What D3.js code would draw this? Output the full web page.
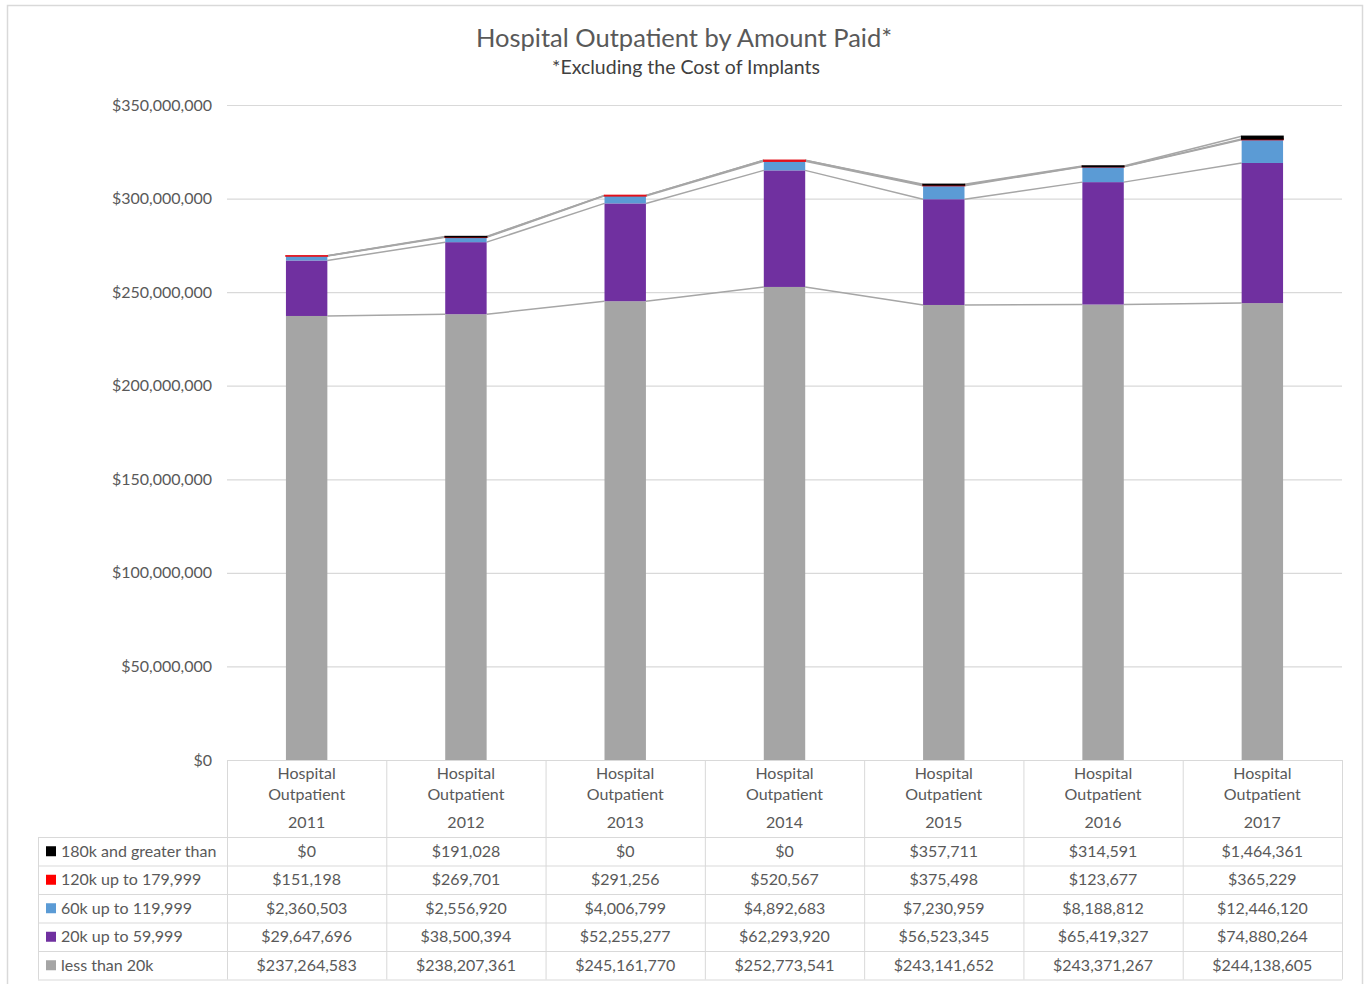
<!DOCTYPE html>
<html><head><meta charset="utf-8">
<script src="https://cdn.jsdelivr.net/npm/d3@7"></script>
<style>
body{margin:0;background:#fff;}
svg{display:block;font-family:Lato,"Open Sans",sans-serif;}
</style></head>
<body><svg id="c" width="1369" height="984"></svg>
<script>
const years = ["2011","2012","2013","2014","2015","2016","2017"];
const seriesNames = ["less than 20k","20k up to 59,999","60k up to 119,999","120k up to 179,999","180k and greater than"];
const lessThan20k = [237264583,238207361,245161770,252773541,243141652,243371267,244138605];
const from20kTo59999 = [29647696,38500394,52255277,62293920,56523345,65419327,74880264];
const from60kTo119999 = [2360503,2556920,4006799,4892683,7230959,8188812,12446120];
const from120kTo179999 = [151198,269701,291256,520567,375498,123677,365229];
const over180k = [0,191028,0,0,357711,314591,1464361];
const yTicks = [0,50000000,100000000,150000000,200000000,250000000,300000000,350000000];
const colors = ["#a5a5a5","#7030a0","#5b9bd5","#e3101a","#000000"];
const keyColors = ["#a5a5a5","#7030a0","#5b9bd5","#ff0000","#000000"];
const seriesValues = [lessThan20k, from20kTo59999, from60kTo119999, from120kTo179999, over180k];

const svg = d3.select("#c");
const plotL = 227, plotR = 1342, plotT = 105, plotB = 760;
const tblL = 38;

svg.append("rect").attr("x",7.5).attr("y",5.5).attr("width",1355).attr("height",990)
  .attr("fill","#fff").attr("stroke","#d9d9d9").attr("stroke-width",1.5);

svg.append("text").attr("x",684).attr("y",47).attr("text-anchor","middle")
  .attr("font-size",25.5).attr("fill","#595959").text("Hospital Outpatient by Amount Paid*");
svg.append("text").attr("x",686).attr("y",74).attr("text-anchor","middle")
  .attr("font-size",19.5).attr("fill","#404040").text("*Excluding the Cost of Implants");

const x = d3.scaleBand().domain(years).range([plotL, plotR]).paddingInner(0).paddingOuter(0);
const y = d3.scaleLinear().domain([0,350000000]).range([plotB, plotT]);
const barW = x.bandwidth()*0.26;

svg.append("g").selectAll("line").data(yTicks.slice(1)).join("line")
  .attr("x1",plotL).attr("x2",plotR).attr("y1",d=>y(d)+0.5).attr("y2",d=>y(d)+0.5)
  .attr("stroke","#d9d9d9").attr("stroke-width",1.2);

const fmt = d3.format("$,.0f");
const yAxis = d3.axisLeft(y).tickValues(yTicks).tickFormat(fmt).tickSize(0).tickPadding(15);
const ga = svg.append("g").attr("transform",`translate(${plotL},0)`).call(yAxis);
ga.select(".domain").remove();
ga.selectAll("text").attr("font-size",16).attr("fill","#595959").attr("font-family","Lato,'Open Sans',sans-serif");

const table = years.map((yr,i)=>{const o={year:yr}; seriesNames.forEach((s,k)=>o[s]=seriesValues[k][i]); return o;});
const stack = d3.stack().keys(seriesNames)(table);

const gl = svg.append("g");
stack.forEach((layer,k)=>{
  for(let i=0;i<years.length-1;i++){
    gl.append("line")
      .attr("x1",x(years[i])+x.bandwidth()/2+barW/2)
      .attr("x2",x(years[i+1])+x.bandwidth()/2-barW/2)
      .attr("y1",y(layer[i][1])).attr("y2",y(layer[i+1][1]))
      .attr("stroke","#a6a6a6").attr("stroke-width",1.5);
  }
});

stack.forEach((layer,k)=>{
  svg.append("g").attr("fill",colors[k]).selectAll("rect").data(layer.filter(d=>d[1]>d[0])).join("rect")
    .attr("x",d=>x(d.data.year)+x.bandwidth()/2-barW/2)
    .attr("width",barW)
    .attr("y",d=>y(d[1]))
    .attr("height",d=>Math.max(0,y(d[0])-y(d[1])))
    .attr("stroke",k>=3?colors[k]:"none").attr("stroke-width",k>=3?1.4:0);
});

const hdrB = 837, rowH = 28.5;
const tg = svg.append("g");
const lc = "#d9d9d9";
years.forEach((yr)=>{
  tg.append("line").attr("x1",x(yr)+0.5).attr("x2",x(yr)+0.5).attr("y1",plotB).attr("y2",hdrB+rowH*5).attr("stroke",lc);
});
tg.append("line").attr("x1",plotR+0.5).attr("x2",plotR+0.5).attr("y1",plotB).attr("y2",hdrB+rowH*5).attr("stroke",lc);
tg.append("line").attr("x1",plotL).attr("x2",plotR).attr("y1",plotB+0.5).attr("y2",plotB+0.5).attr("stroke",lc);
tg.append("line").attr("x1",tblL+0.5).attr("x2",tblL+0.5).attr("y1",hdrB).attr("y2",hdrB+rowH*5).attr("stroke",lc);
for(let r=0;r<=5;r++){
  tg.append("line").attr("x1",tblL).attr("x2",plotR).attr("y1",hdrB+rowH*r+0.5).attr("y2",hdrB+rowH*r+0.5).attr("stroke",lc);
}
years.forEach(yr=>{
  const cx = x(yr)+x.bandwidth()/2;
  [["Hospital",779],["Outpatient",800],[yr,828]].forEach(([t,ty])=>{
    tg.append("text").attr("x",cx).attr("y",ty).attr("text-anchor","middle")
      .attr("font-size",16).attr("fill","#595959").text(t);
  });
});
const order = [4,3,2,1,0];
order.forEach((k,r)=>{
  const ry = hdrB + rowH*r;
  tg.append("rect").attr("x",tblL+8).attr("y",ry+rowH/2-5).attr("width",10).attr("height",10).attr("fill",keyColors[k]);
  tg.append("text").attr("x",tblL+23).attr("y",ry+rowH/2+5.5).attr("font-size",16).attr("fill","#595959").text(seriesNames[k]);
  years.forEach((yr,i)=>{
    tg.append("text").attr("x",x(yr)+x.bandwidth()/2).attr("y",ry+rowH/2+5.5).attr("text-anchor","middle")
      .attr("font-size",16).attr("fill","#595959").text(fmt(seriesValues[k][i]));
  });
});
</script></body></html>
